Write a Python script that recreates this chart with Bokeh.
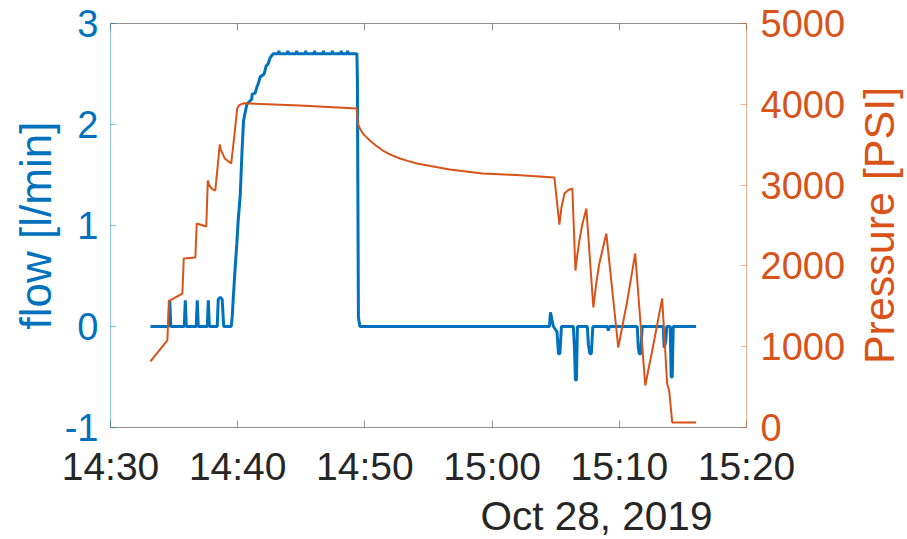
import math
from datetime import datetime, timedelta

from bokeh.core.properties import value
from bokeh.embed import file_html
from bokeh.layouts import row
from bokeh.models import (ColumnDataSource, DatetimeAxis, DatetimeTickFormatter,
                          FixedTicker, LinearAxis, Range1d, Title)
from bokeh.plotting import figure
from bokeh.resources import INLINE

# Flow meter record: minutes after 14:30 and flow in l/min
flow_minutes = [3.14, 4.58, 4.66, 4.74, 5.80, 5.88, 5.96, 6.74, 6.82, 6.90,
                7.61, 7.69, 7.77, 8.39, 8.47, 8.63, 8.78, 8.90, 9.49, 9.57, 9.65,
                9.80, 9.93, 10.04, 10.20, 10.33, 10.46, 10.72, 11.10, 11.14, 11.37,
                11.53, 11.61, 11.76, 12.08, 12.24, 12.39, 12.55, 12.78,
                13.20, 13.24, 13.28, 13.90, 13.94, 13.98, 14.60, 14.64, 14.68,
                15.30, 15.34, 15.38, 16.00, 16.04, 16.08, 16.70, 16.74, 16.78,
                17.40, 17.44, 17.48, 18.10, 18.14, 18.18, 18.60, 18.64, 18.68,
                19.37, 19.41, 19.49, 19.61,
                34.51, 34.59, 34.71, 34.82, 34.98, 35.10, 35.22, 35.33, 35.45, 36.39,
                36.47, 36.55, 36.63, 36.71, 37.49, 37.57, 37.69, 37.80, 37.92, 39.06,
                39.14, 39.22, 41.41, 41.49, 41.57, 41.69, 41.80, 43.45, 43.53, 43.65,
                43.73, 44.00, 44.08, 44.16, 44.24, 46.04]
flow_lpm = [0.00, 0.00, 0.26, 0.00, 0.00, 0.26, 0.00, 0.00, 0.26, 0.00,
            0.00, 0.26, 0.00, 0.00, 0.27, 0.29, 0.27, 0.00, 0.00, 0.10, 0.28,
            0.58, 0.82, 1.05, 1.30, 1.71, 2.04, 2.20, 2.25, 2.30, 2.31,
            2.38, 2.40, 2.47, 2.50, 2.58, 2.60, 2.66, 2.70,
            2.70, 2.73, 2.70, 2.70, 2.73, 2.70, 2.70, 2.73, 2.70,
            2.70, 2.73, 2.70, 2.70, 2.73, 2.70, 2.70, 2.73, 2.70,
            2.70, 2.73, 2.70, 2.70, 2.73, 2.70, 2.70, 2.73, 2.70,
            2.70, 2.45, 0.09, 0.00,
            0.00, 0.14, 0.06, 0.00, -0.03, -0.05, -0.27, -0.27, 0.00, 0.00,
            -0.20, -0.53, -0.53, 0.00, 0.00, -0.18, -0.27, -0.27, 0.00, 0.00,
            -0.04, 0.00, 0.00, -0.20, -0.27, -0.27, 0.00, 0.00, -0.21, -0.15,
            0.00, 0.00, -0.50, -0.50, 0.00, 0.00]

# Line pressure record: minutes after 14:30 and pressure in PSI
pressure_minutes = [3.14, 4.47, 4.59, 4.71, 5.65, 5.76, 6.67, 6.78, 7.53, 7.65, 7.76,
                    8.00, 8.24, 8.59, 8.67, 8.98, 9.49, 9.73, 9.96, 10.12, 10.43,
                    10.98, 14.90, 19.35, 19.45, 19.61, 19.84, 20.08, 20.39, 20.86,
                    21.41, 21.96, 22.75, 23.37, 24.08, 26.67, 29.25, 31.92, 34.90,
                    35.06, 35.29, 35.45, 35.69, 36.00, 36.31, 36.55, 36.71, 36.86,
                    37.10, 37.41, 37.96, 38.20, 38.43, 38.98, 39.92, 40.63, 41.25,
                    42.04, 42.59, 43.37, 43.76, 43.92, 44.16, 46.04]
pressure_psi = [817, 1077, 1572, 1575, 1658, 2091, 2104, 2525, 2488, 3057, 3000,
                2950, 2933, 3502, 3440, 3330, 3267, 3600, 3948, 3990, 4012,
                4010, 3985, 3948, 3762, 3700, 3638, 3600, 3552, 3490,
                3428, 3380, 3329, 3300, 3267, 3193, 3143, 3125, 3094,
                2850, 2512, 2720, 2896, 2940, 2958, 1943, 2150, 2314,
                2520, 2710, 1485, 1800, 2030, 2401, 990, 1572, 2153,
                520, 953, 1596, 545, 458, 62, 62]

x_tick_minutes = [0, 10, 20, 30, 40, 50]
flow_ticks = [-1, 0, 1, 2, 3]
flow_tick_labels = ["-1", "0", "1", "2", "3"]
pressure_ticks = [0, 1000, 2000, 3000, 4000, 5000]
date_text = "Oct 28, 2019"
flow_title = "flow [l/min]"
pressure_title = "Pressure [PSI]"

BLUE = "#0072BD"
ORANGE = "#D95319"
DARK = "#262626"
FONT = "Liberation Sans"

start = datetime(2019, 10, 28, 14, 30)


def stamp(minutes):
    return start + timedelta(minutes=minutes)


def ms(minutes):
    return (stamp(minutes) - datetime(1970, 1, 1)).total_seconds() * 1000.0


flow_src = ColumnDataSource(dict(t=[stamp(m) for m in flow_minutes], v=flow_lpm))
pres_src = ColumnDataSource(dict(t=[stamp(m) for m in pressure_minutes], v=pressure_psi))

p = figure(width=852, height=539, x_axis_type="datetime",
           x_range=Range1d(stamp(0), stamp(50)), y_range=Range1d(-1, 3),
           output_backend="svg", toolbar_location=None,
           min_border_left=110, min_border_right=106,
           min_border_top=23, min_border_bottom=112)
p.extra_y_ranges = {"pressure": Range1d(0, 5000)}
p.grid.visible = False
p.outline_line_color = None
p.background_fill_color = "white"
p.border_fill_color = "white"

fmt = DatetimeTickFormatter(minutes="%H:%M", hourmin="%H:%M", hours="%H:%M")
x_ticker = FixedTicker(ticks=[ms(m) for m in x_tick_minutes])

xa = p.xaxis[0]
xa.ticker = x_ticker
xa.formatter = fmt
xa.major_label_text_font = FONT
xa.major_label_text_font_size = "39px"
xa.major_label_text_color = DARK
xa.major_label_standoff = 17
xa.axis_line_color = DARK
xa.axis_line_alpha = 0.5
xa.major_tick_line_color = DARK
xa.major_tick_line_alpha = 0.5
xa.major_tick_in = 7
xa.major_tick_out = 0
xa.minor_tick_line_color = None

# box edge along the top, with the same tick marks and no labels
top = DatetimeAxis(ticker=x_ticker, formatter=fmt)
top.major_label_text_font_size = "1px"
top.major_label_text_color = None
top.major_label_standoff = 0
top.axis_line_color = DARK
top.axis_line_alpha = 0.5
top.major_tick_line_color = DARK
top.major_tick_line_alpha = 0.5
top.major_tick_in = 7
top.major_tick_out = 0
top.minor_tick_line_color = None
p.add_layout(top, "above")

ya = p.yaxis[0]
ya.ticker = FixedTicker(ticks=flow_ticks)
ya.major_label_overrides = dict(zip(flow_ticks, flow_tick_labels))
ya.axis_label = flow_title
ya.axis_label_text_font = FONT
ya.axis_label_text_font_style = "normal"
ya.axis_label_text_font_size = "44px"
ya.axis_label_text_color = BLUE
ya.axis_label_standoff = 2
ya.major_label_text_font = FONT
ya.major_label_text_font_size = "38px"
ya.major_label_text_color = BLUE
ya.major_label_standoff = 12
ya.axis_line_color = BLUE
ya.axis_line_alpha = 0.45
ya.major_tick_line_color = BLUE
ya.major_tick_line_alpha = 0.45
ya.major_tick_in = 6
ya.major_tick_out = 0
ya.minor_tick_line_color = None

ra = LinearAxis(y_range_name="pressure", ticker=FixedTicker(ticks=pressure_ticks))
ra.major_label_text_font = FONT
ra.major_label_text_font_size = "38px"
ra.major_label_text_color = ORANGE
ra.major_label_standoff = 14
ra.axis_line_color = ORANGE
ra.axis_line_alpha = 0.45
ra.major_tick_line_color = ORANGE
ra.major_tick_line_alpha = 0.45
ra.major_tick_in = 6
ra.major_tick_out = 0
ra.minor_tick_line_color = None
p.add_layout(ra, "right")

p.line("t", "v", source=flow_src, line_color=BLUE, line_width=3)
p.line("t", "v", source=pres_src, line_color=ORANGE, line_width=2,
       y_range_name="pressure")

# date line under the time axis
p.add_layout(Title(text=date_text, align="left", offset=370, standoff=0,
                   text_font=FONT, text_font_size="40.5px", text_font_style="normal",
                   text_color=DARK), "below")

# narrow strip at the right edge carrying the pressure axis title; it shares
# the vertical layout of the chart so the title centres on the plot area and
# is set upright so that it reads from bottom to top like the flow title
strip = figure(width=55, height=539, x_range=Range1d(0, 55), y_range=Range1d(-1, 3),
               output_backend="svg", toolbar_location=None,
               x_axis_location=None, y_axis_location=None,
               min_border_left=0, min_border_right=0,
               min_border_top=23, min_border_bottom=112)
strip.grid.visible = False
strip.outline_line_color = None
strip.background_fill_color = "white"
strip.border_fill_color = "white"
strip.text(x=[26.5], y=[1], text=[pressure_title], angle=math.pi / 2,
           text_align="center", text_baseline="middle",
           text_font=value(FONT), text_font_size="43px", text_color=ORANGE)

layout = row(p, strip, spacing=0)

open("out.html", "w").write(file_html(layout, INLINE))
